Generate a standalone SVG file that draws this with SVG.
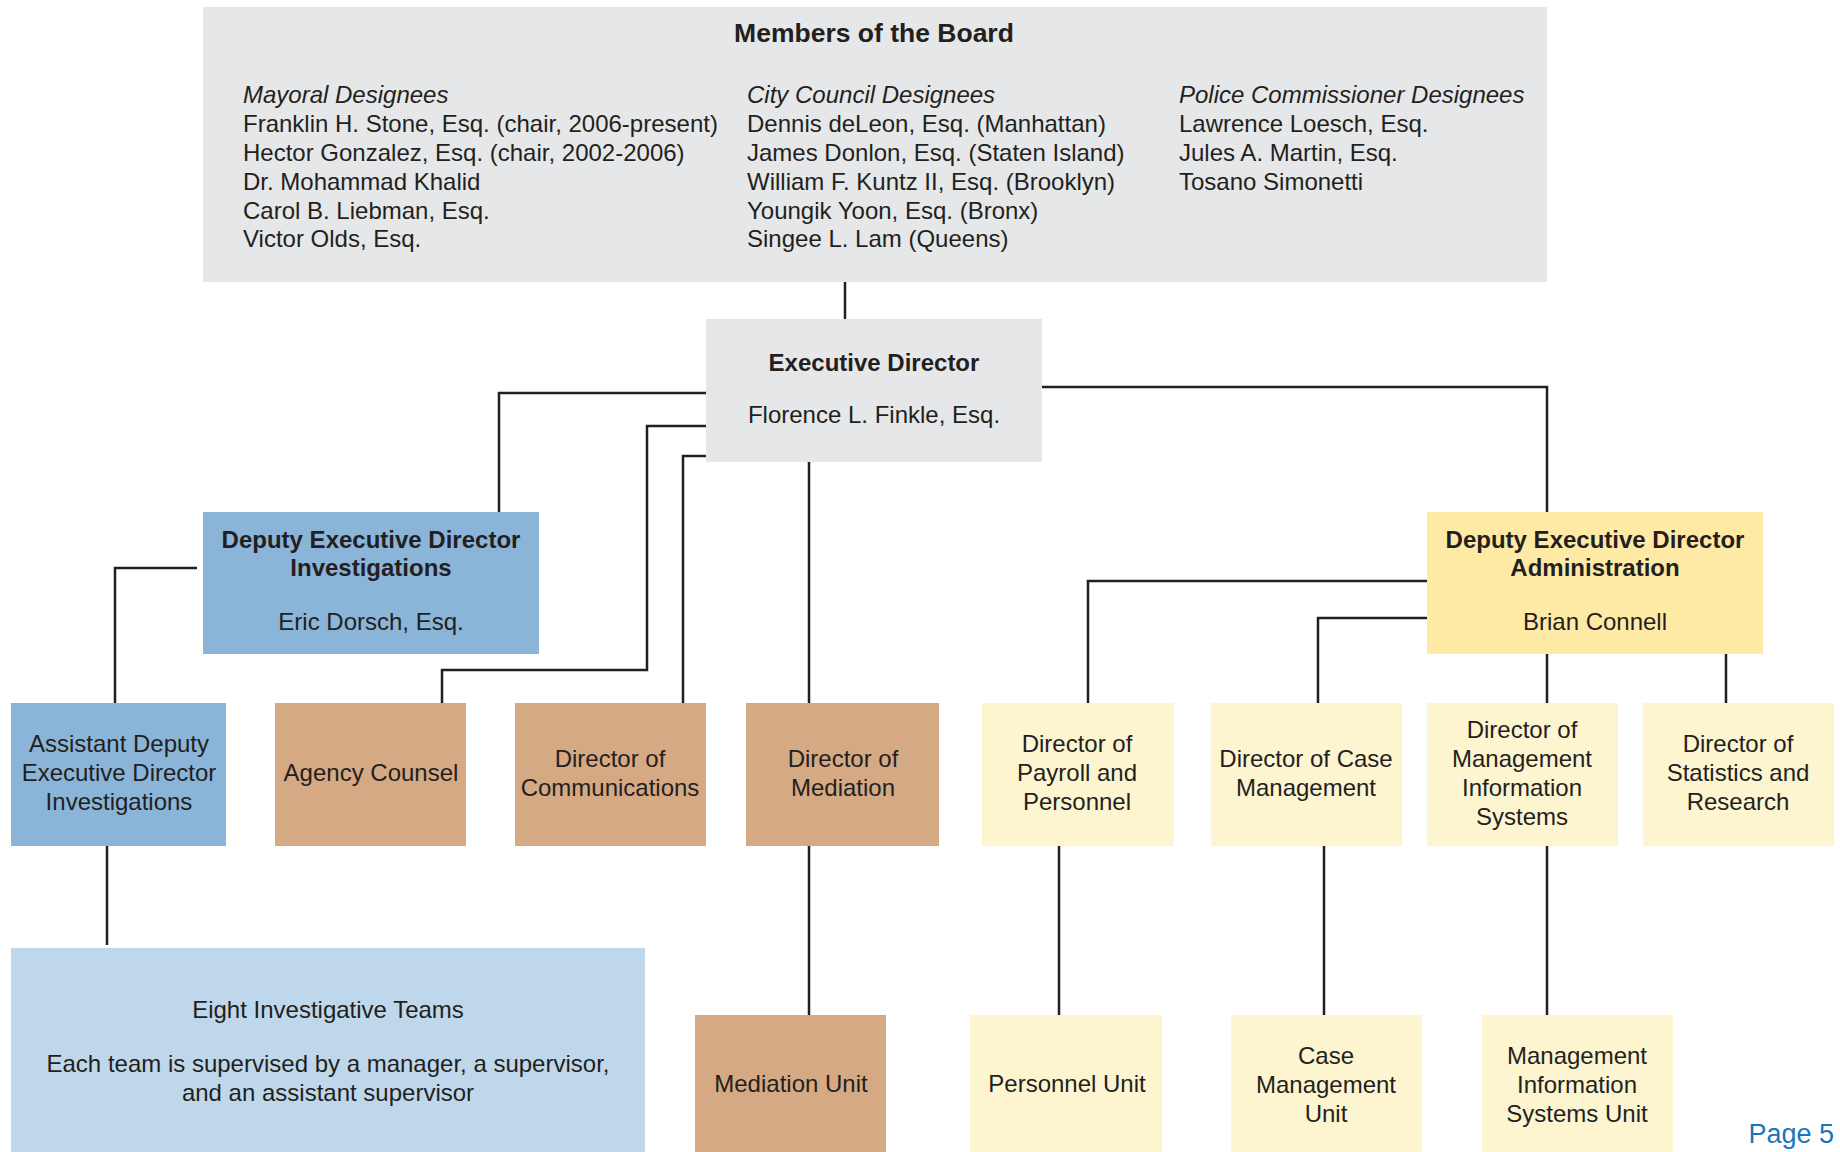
<svg xmlns="http://www.w3.org/2000/svg" width="1840" height="1152" viewBox="0 0 1840 1152">
<style>
text{font-family:"Liberation Sans",Arial,sans-serif;font-size:24px;fill:#231f20}
.c{text-anchor:middle}
.b{font-weight:bold}
.i{font-style:italic}
.t{font-size:26.5px}
.gray{fill:#e6e7e8}
.blue{fill:#8ab4d8}
.lblue{fill:#bfd7ea}
.tan{fill:#d5a983}
.yel{fill:#feeaa4}
.lyel{fill:#fdf4d0}
.conn path{fill:none;stroke:#231f20;stroke-width:2.5}
</style>
<rect width="1840" height="1152" fill="#fff"/>
<g class="conn">
<path d="M845 282V319"/>
<path d="M706 393H499V512"/>
<path d="M706 426H647V670H442V703"/>
<path d="M706 456H683V703"/>
<path d="M809 462V703"/>
<path d="M1042 387H1547V512"/>
<path d="M197 568H115V703"/>
<path d="M1427 581H1088V703"/>
<path d="M1427 618H1318V703"/>
<path d="M1547 654V703"/>
<path d="M1726 654V703"/>
<path d="M107 846V945"/>
<path d="M809 846V1015"/>
<path d="M1059 846V1015"/>
<path d="M1324 846V1015"/>
<path d="M1547 846V1015"/>
</g>
<g id="board">
<rect class="gray" x="203" y="7" width="1344" height="275"/>
<text class="c b t" x="874" y="42">Members of the Board</text>
<text class="i" x="243" y="103">Mayoral Designees</text>
<text x="243" y="132">Franklin H. Stone, Esq. (chair, 2006-present)</text>
<text x="243" y="161">Hector Gonzalez, Esq. (chair, 2002-2006)</text>
<text x="243" y="190">Dr. Mohammad Khalid</text>
<text x="243" y="219">Carol B. Liebman, Esq.</text>
<text x="243" y="247">Victor Olds, Esq.</text>
<text class="i" x="747" y="103">City Council Designees</text>
<text x="747" y="132">Dennis deLeon, Esq. (Manhattan)</text>
<text x="747" y="161">James Donlon, Esq. (Staten Island)</text>
<text x="747" y="190">William F. Kuntz II, Esq. (Brooklyn)</text>
<text x="747" y="219">Youngik Yoon, Esq. (Bronx)</text>
<text x="747" y="247">Singee L. Lam (Queens)</text>
<text class="i" x="1179" y="103">Police Commissioner Designees</text>
<text x="1179" y="132">Lawrence Loesch, Esq.</text>
<text x="1179" y="161">Jules A. Martin, Esq.</text>
<text x="1179" y="190">Tosano Simonetti</text>
</g>
<g id="exec">
<rect class="gray" x="706" y="319" width="336" height="143"/>
<text class="c b" x="874" y="371">Executive Director</text>
<text class="c" x="874" y="423">Florence L. Finkle, Esq.</text>
</g>
<g id="dep-inv">
<rect class="blue" x="203" y="512" width="336" height="142"/>
<text class="c b" x="371" y="548">Deputy Executive Director</text>
<text class="c b" x="371" y="576">Investigations</text>
<text class="c" x="371" y="630">Eric Dorsch, Esq.</text>
</g>
<g id="dep-admin">
<rect class="yel" x="1427" y="512" width="336" height="142"/>
<text class="c b" x="1595" y="548">Deputy Executive Director</text>
<text class="c b" x="1595" y="576">Administration</text>
<text class="c" x="1595" y="630">Brian Connell</text>
</g>
<g id="asst-dep">
<rect class="blue" x="11" y="703" width="215" height="143"/>
<text class="c" x="119" y="752">Assistant Deputy</text>
<text class="c" x="119" y="781">Executive Director</text>
<text class="c" x="119" y="810">Investigations</text>
</g>
<g id="agency-counsel">
<rect class="tan" x="275" y="703" width="191" height="143"/>
<text class="c" x="371" y="781">Agency Counsel</text>
</g>
<g id="dir-comm">
<rect class="tan" x="515" y="703" width="191" height="143"/>
<text class="c" x="610" y="767">Director of</text>
<text class="c" x="610" y="796">Communications</text>
</g>
<g id="dir-med">
<rect class="tan" x="746" y="703" width="193" height="143"/>
<text class="c" x="843" y="767">Director of</text>
<text class="c" x="843" y="796">Mediation</text>
</g>
<g id="dir-payroll">
<rect class="lyel" x="982" y="703" width="192" height="143"/>
<text class="c" x="1077" y="752">Director of</text>
<text class="c" x="1077" y="781">Payroll and</text>
<text class="c" x="1077" y="810">Personnel</text>
</g>
<g id="dir-case">
<rect class="lyel" x="1211" y="703" width="191" height="143"/>
<text class="c" x="1306" y="767">Director of Case</text>
<text class="c" x="1306" y="796">Management</text>
</g>
<g id="dir-mis">
<rect class="lyel" x="1427" y="703" width="191" height="143"/>
<text class="c" x="1522" y="738">Director of</text>
<text class="c" x="1522" y="767">Management</text>
<text class="c" x="1522" y="796">Information</text>
<text class="c" x="1522" y="825">Systems</text>
</g>
<g id="dir-stats">
<rect class="lyel" x="1643" y="703" width="191" height="143"/>
<text class="c" x="1738" y="752">Director of</text>
<text class="c" x="1738" y="781">Statistics and</text>
<text class="c" x="1738" y="810">Research</text>
</g>
<g id="teams">
<rect class="lblue" x="11" y="948" width="634" height="204"/>
<text class="c" x="328" y="1018">Eight Investigative Teams</text>
<text class="c" x="328" y="1072">Each team is supervised by a manager, a supervisor,</text>
<text class="c" x="328" y="1101">and an assistant supervisor</text>
</g>
<g id="med-unit">
<rect class="tan" x="695" y="1015" width="191" height="137"/>
<text class="c" x="791" y="1092">Mediation Unit</text>
</g>
<g id="pers-unit">
<rect class="lyel" x="970" y="1015" width="192" height="137"/>
<text class="c" x="1067" y="1092">Personnel Unit</text>
</g>
<g id="case-unit">
<rect class="lyel" x="1231" y="1015" width="191" height="137"/>
<text class="c" x="1326" y="1064">Case</text>
<text class="c" x="1326" y="1093">Management</text>
<text class="c" x="1326" y="1122">Unit</text>
</g>
<g id="mis-unit">
<rect class="lyel" x="1482" y="1015" width="191" height="137"/>
<text class="c" x="1577" y="1064">Management</text>
<text class="c" x="1577" y="1093">Information</text>
<text class="c" x="1577" y="1122">Systems Unit</text>
</g>
<text x="1834" y="1143" text-anchor="end" style="fill:#1a76bb;font-size:27px">Page 5</text>
</svg>
